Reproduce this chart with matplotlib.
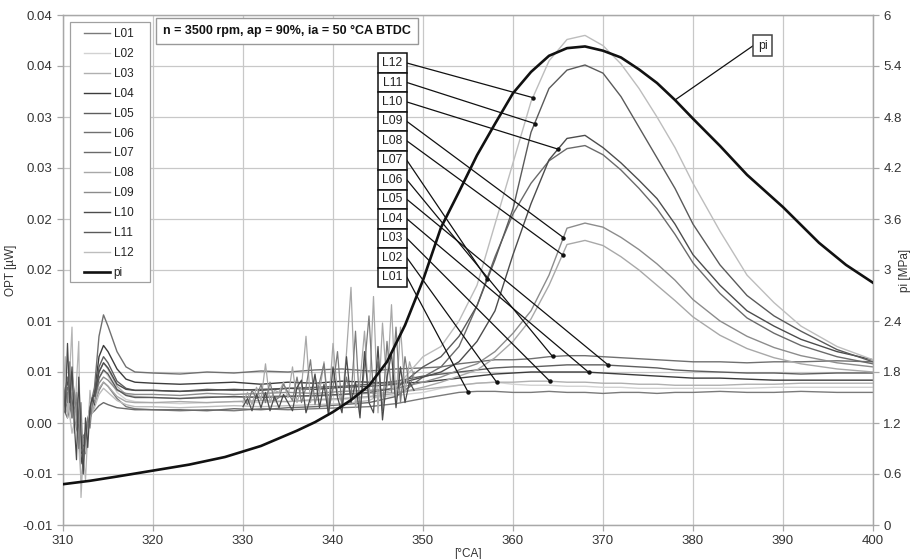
import matplotlib
matplotlib.use('Agg')
import matplotlib.pyplot as plt
from matplotlib.patches import Rectangle
import numpy as np

plt.rcParams['font.family'] = ['Liberation Sans', 'DejaVu Sans']

# ---- data (OPT values in 1e-3 uW) ----
ca = [310, 310.5, 311, 311.5, 312, 312.5, 313, 313.5, 314, 314.5, 315, 316, 317, 318,
      320, 323, 326, 329, 332, 335, 338, 341, 344, 347,
      350, 352, 354, 356, 358, 360, 362, 364, 366, 368, 370, 372, 374, 376, 378, 380,
      383, 386, 389, 392, 396, 400]

L01 = [1.0, 3.0, 0.5, 2.0, -1.5, -1.0, 0.5, 1.8, 3.2, 4.0, 3.6, 2.4, 1.6, 1.4,
       1.3, 1.2, 1.3, 1.2, 1.4, 1.3, 1.4, 1.5, 1.6, 1.9,
       2.4, 2.7, 3.0, 3.1, 3.1, 3.0, 3.0, 3.1, 3.0, 3.0, 2.9, 3.0, 3.0, 2.9, 3.0, 3.0,
       3.1, 3.0, 3.0, 3.1, 3.0, 3.0]
L02 = [1.5, 2.0, 3.5, 0.5, -2.5, -1.5, 1.0, 2.2, 4.3, 5.2, 4.6, 3.0, 2.3, 2.1,
       2.0, 1.9, 2.0, 2.1, 2.0, 2.1, 2.2, 2.3, 2.5, 2.7,
       3.0, 3.4, 3.7, 3.9, 4.0, 3.8, 3.7, 3.7, 3.6, 3.6, 3.5, 3.5, 3.4, 3.4, 3.4, 3.4,
       3.4, 3.4, 3.5, 3.5, 3.5, 3.5]
L03 = [2.5, 1.0, 4.0, 1.5, -3.5, -2.0, 1.2, 2.5, 5.0, 5.9, 5.3, 3.6, 2.8, 2.6,
       2.5, 2.4, 2.6, 2.5, 2.6, 2.7, 2.6, 2.8, 2.9, 3.0,
       3.3, 3.5, 3.7, 3.9, 4.0, 4.0, 4.1, 4.1, 4.0, 4.0, 3.9, 3.9, 3.8, 3.8, 3.7, 3.7,
       3.7, 3.8, 3.8, 3.9, 3.9, 3.9]
L04 = [3.0, 1.5, 5.0, 0.5, -4.0, -1.0, 1.5, 3.0, 6.5, 7.6, 7.0, 5.3, 4.3, 4.0,
       3.9, 3.8, 3.9, 4.0, 3.8, 4.0, 3.9, 4.1, 4.0, 3.9,
       4.0, 4.2, 4.4, 4.6, 4.8, 4.9, 5.0, 5.0, 5.0, 5.0, 4.9, 4.8, 4.7, 4.6, 4.5, 4.4,
       4.4, 4.3, 4.2, 4.2, 4.2, 4.2]
L05 = [2.0, 3.5, 1.5, 2.5, -2.0, -3.0, 1.0, 2.6, 5.5, 6.5, 5.9, 4.1, 3.4, 3.2,
       3.2, 3.1, 3.3, 3.2, 3.3, 3.4, 3.5, 3.6, 3.8, 4.1,
       4.6, 4.8, 5.0, 5.2, 5.4, 5.5, 5.5, 5.6, 5.7, 5.7, 5.7, 5.6, 5.5, 5.4, 5.2, 5.1,
       5.0, 4.9, 4.9, 4.8, 4.9, 4.9]
L06 = [2.0, 4.5, 1.0, 3.0, -3.0, -2.0, 1.5, 3.5, 8.5, 10.6, 9.5, 7.0, 5.5, 5.0,
       4.9, 4.8, 5.0, 4.9, 5.1, 5.0, 5.2, 5.3, 5.1, 5.3,
       5.4, 5.5, 5.8, 6.0, 6.2, 6.2, 6.3, 6.5, 6.6, 6.6, 6.5, 6.4, 6.3, 6.2, 6.1, 6.0,
       6.0, 5.9, 6.0, 6.0, 6.1, 6.0]
L07 = [1.5, 0.5, 2.5, -0.5, -2.0, -1.0, 0.8, 1.2, 1.7, 2.0, 1.8, 1.5, 1.4, 1.3,
       1.3, 1.3, 1.2, 1.4, 1.3, 1.5, 1.6, 1.8, 2.0, 2.6,
       4.5, 5.5, 7.5, 11.5, 16.3, 20.5, 23.5, 25.7, 26.9, 27.2, 26.3, 24.8, 23.0, 21.0, 18.5, 15.7,
       12.7, 10.3, 8.8, 7.6, 6.5, 5.8]
L08 = [2.0, 1.0, 3.0, 0.0, -3.0, -1.5, 1.0, 2.0, 3.4, 4.0, 3.6, 2.6, 2.1, 2.0,
       2.0, 2.1, 2.0, 2.1, 2.2, 2.1, 2.3, 2.4, 2.6, 2.9,
       3.5, 4.0, 4.6, 5.2, 6.4, 8.0, 10.2, 13.5, 17.5, 17.9, 17.4, 16.3, 15.0, 13.5, 12.0, 10.4,
       8.6, 7.3, 6.4, 5.8, 5.3, 5.0]
L09 = [3.0, 2.0, 4.5, 1.0, -2.5, -1.0, 1.5, 2.4, 3.9, 4.5, 4.2, 3.2, 2.9, 2.8,
       2.8, 2.7, 2.9, 2.8, 2.9, 3.0, 2.9, 3.1, 3.2, 3.4,
       4.0, 4.5, 5.2, 5.8, 7.0, 8.8, 11.0, 14.5, 19.1, 19.6, 19.2, 18.2, 17.0, 15.6, 14.0, 12.1,
       10.0, 8.5, 7.4, 6.6, 5.9, 5.5]
L10 = [2.5, 4.0, 2.0, 1.0, -3.0, -2.5, 1.2, 2.6, 5.0, 5.9, 5.4, 3.8, 3.3, 3.2,
       3.2, 3.1, 3.2, 3.3, 3.2, 3.4, 3.3, 3.5, 3.6, 3.8,
       4.5, 5.0, 6.0, 8.0, 11.0, 16.5, 21.5, 25.8, 27.9, 28.2, 27.0, 25.5, 23.8, 22.0, 19.5, 16.5,
       13.5, 11.0, 9.5, 8.2, 7.0, 6.2]
L11 = [2.0, 3.0, 1.5, 0.5, -2.5, -2.0, 1.0, 2.4, 4.4, 5.2, 4.8, 3.3, 2.7, 2.5,
       2.5, 2.4, 2.5, 2.6, 2.5, 2.6, 2.7, 2.8, 3.0, 3.4,
       5.5, 6.5, 8.5, 11.5, 16.0, 21.0, 28.5, 32.8, 34.6, 35.1, 34.3, 32.0, 29.0, 26.0, 23.0, 19.5,
       15.5, 12.5, 10.5, 9.0, 7.2, 6.0]
L12 = [1.0, 2.5, -1.0, 1.0, -5.5, -2.5, 0.5, 1.5, 2.8, 3.4, 3.0, 2.2, 1.8, 1.6,
       1.6, 1.5, 1.6, 1.7, 1.6, 1.7, 1.8, 1.9, 2.2, 3.5,
       6.5, 7.5, 10.0, 13.5, 19.5, 25.5, 31.5, 35.5, 37.6, 38.0, 37.0, 35.2, 32.8, 30.0, 27.0, 23.5,
       18.8, 14.5, 11.8, 9.5, 7.5, 6.2]

# noisy stretches (1e-3 uW)
noise_ca = [330, 330.5, 331, 331.5, 332, 332.5, 333, 333.5,
            334, 334.5, 335, 335.5, 336, 336.5, 337, 337.5, 338, 338.5, 339, 339.5, 340, 340.5,
            341, 341.5, 342, 342.5, 343, 343.5, 344, 344.5, 345, 345.5, 346, 346.5, 347, 347.5,
            348, 348.5, 349]
noise_light = [2.0, 3.0, 1.8, 3.5, 2.2, 5.8, 2.0, 3.2,
               3.0, 4.0, 2.5, 5.5, 2.0, 3.5, 8.5, 2.0, 4.5, 3.0, 6.0, 1.5, 7.8, 3.0,
               2.0, 6.9, 13.3, 1.5, 4.0, 9.0, 2.0, 12.4, 1.0, 9.8, 3.5, 11.6, 2.0, 9.4,
               3.0, 6.0, 4.5]
noise_mid = [2.6, 1.8, 3.2, 2.4, 3.8, 2.0, 4.0, 2.2,
             2.5, 3.8, 3.0, 2.2, 4.5, 2.0, 3.5, 6.2, 1.8, 4.0, 5.8, 1.0, 3.5, 7.0,
             1.5, 4.5, 2.5, 9.0, 1.0, 5.5, 10.5, 2.5, 6.0, 1.2, 8.0, 3.0, 9.4, 2.0,
             6.5, 3.5, 5.0]
noise_dark = [1.6, 2.4, 1.2, 2.8, 1.5, 3.0, 1.2, 2.6,
              1.5, 2.8, 2.0, 1.2, 3.5, 4.2, 1.0, 2.5, 4.8, 1.5, 3.8, 0.8, 5.5, 2.5,
              1.0, 6.5, 2.0, 4.0, 0.5, 7.0, 2.0, 1.0, 7.5, 0.3, 4.5, 6.8, 1.5, 5.5,
              2.0, 4.0, 3.2]
early_ca = [310, 310.25, 310.5, 310.75, 311, 311.25, 311.5, 311.75, 312, 312.25, 312.5,
            312.75, 313, 313.25, 313.5]
early_light = [2.0, 6.5, 0.5, 5.0, 9.4, -1.0, 4.0, 8.0, -7.3, -3.0, -5.6, -1.0, 3.2, 1.0, 2.5]
early_dark = [4.0, 1.0, 7.8, 2.0, 5.5, 0.0, -3.6, 4.5, -1.0, -5.0, 0.5, -2.4, 1.5, 2.5, 1.8]
early_mid = [1.0, 3.5, 2.0, 6.0, 0.5, 3.0, 1.0, -2.5, 2.0, -4.0, -1.5, 0.5, -0.5, 2.0, 2.2]

# indicated pressure [MPa]
pi_ca = [310, 313, 316, 320, 324, 328, 332, 336, 338, 340, 342, 344, 346, 348, 350, 352, 354,
         356, 358, 360, 362, 364, 366, 368, 370, 372, 374, 376, 378, 380, 383, 386, 390,
         394, 397, 400]
pi = [0.48, 0.52, 0.57, 0.64, 0.71, 0.80, 0.93, 1.11, 1.21, 1.33, 1.47, 1.64, 1.92, 2.35,
      2.88, 3.50, 3.92, 4.35, 4.72, 5.08, 5.33, 5.52, 5.61, 5.63, 5.58, 5.50, 5.36, 5.20,
      5.00, 4.78, 4.46, 4.12, 3.74, 3.32, 3.06, 2.85]

names = ['L01', 'L02', 'L03', 'L04', 'L05', 'L06', 'L07', 'L08', 'L09', 'L10', 'L11', 'L12']
series = [L01, L02, L03, L04, L05, L06, L07, L08, L09, L10, L11, L12]
colors = ['#7a7a7a', '#d2d2d2', '#b0b0b0', '#3c3c3c', '#5e5e5e', '#707070',
          '#6a6a6a', '#a8a8a8', '#8c8c8c', '#4c4c4c', '#5a5a5a', '#bdbdbd']
# crank angle where each label's leader line touches its curve
leader_ca = [355.0, 358.2, 364.1, 368.4, 370.6, 364.4, 357.1, 365.5, 365.6, 365.0, 362.4, 362.2]
pi_leader_ca = 378.0

yticks_opt = [-0.01, -0.005, 0.0, 0.005, 0.01, 0.015, 0.02, 0.025, 0.03, 0.035, 0.04]
ytick_labels = ['-0.01', '-0.01', '0.00', '0.01', '0.01', '0.02', '0.02', '0.03', '0.03', '0.04', '0.04']
pi_ticks = [0, 0.6, 1.2, 1.8, 2.4, 3, 3.6, 4.2, 4.8, 5.4, 6]
pi_tick_labels = ['0', '0.6', '1.2', '1.8', '2.4', '3', '3.6', '4.2', '4.8', '5.4', '6']
xticks = [310, 320, 330, 340, 350, 360, 370, 380, 390, 400]

# ---- plot ----
fig = plt.figure(figsize=(9.14, 5.59), dpi=100)
ax = fig.add_axes([63 / 914, 34 / 559, 810 / 914, 510 / 559])
ax2 = ax.twinx()

grid_c = '#c8c8c8'
for x in xticks:
    ax.axvline(x, color=grid_c, lw=0.9, zorder=0)
for y in yticks_opt:
    ax.axhline(y, color=grid_c, lw=0.9, zorder=0)

ca_arr = np.array(ca)
handles = []
for name, vals, col in zip(names, series, colors):
    ln, = ax.plot(ca_arr, np.array(vals) * 1e-3, color=col, lw=1.0, label=name, zorder=2)
    handles.append(ln)

ax.plot(early_ca, np.array(early_light) * 1e-3, color='#b4b4b4', lw=0.9, zorder=2)
ax.plot(early_ca, np.array(early_mid) * 1e-3, color='#808080', lw=0.9, zorder=2)
ax.plot(early_ca, np.array(early_dark) * 1e-3, color='#4a4a4a', lw=0.9, zorder=2)
ax.plot(noise_ca, np.array(noise_light) * 1e-3, color='#a8a8a8', lw=0.9, zorder=2)
ax.plot(noise_ca, np.array(noise_mid) * 1e-3, color='#7c7c7c', lw=0.9, zorder=2)
ax.plot(noise_ca, np.array(noise_dark) * 1e-3, color='#4a4a4a', lw=0.9, zorder=2)

ax.set_xlim(310, 400)
ax.set_ylim(-0.01, 0.04)
ax.set_xticks(xticks)
ax.set_yticks(yticks_opt)
ax.set_yticklabels(ytick_labels)

pi_ln, = ax2.plot(pi_ca, pi, color='#111111', lw=1.9, label='pi', zorder=3)
handles.append(pi_ln)
ax2.set_ylim(0, 6)
ax2.set_yticks(pi_ticks)
ax2.set_yticklabels(pi_tick_labels)

for a in (ax, ax2):
    for s in a.spines.values():
        s.set_color('#a8a8a8')
        s.set_linewidth(0.9)
    a.tick_params(colors='#a8a8a8', labelcolor='#333333', labelsize=9.5, length=4, width=0.9)
ax.tick_params(axis='x', pad=3)

ax.set_ylabel('OPT [µW]', fontsize=8.5, color='#333333')
ax.yaxis.set_label_coords(-0.057, 0.5)
ax2.set_ylabel('pi [MPa]', fontsize=8.5, color='#333333')
ax2.yaxis.set_label_coords(1.032, 0.5)
ax.set_xlabel('[°CA]', fontsize=8.5, color='#333333')
ax.xaxis.set_label_coords(0.5, -0.045)

# label boxes with leader lines (stacked column)
box_left, box_w = 345.0, 3.22
box_h = 0.00191
top_center = 0.03529
for i, name in enumerate(names[::-1]):
    idx = len(names) - 1 - i
    yc = top_center - i * box_h
    ax.add_patch(Rectangle((box_left, yc - box_h / 2), box_w, box_h, facecolor='white',
                           edgecolor='#111111', lw=1.1, zorder=6))
    ax.text(box_left + box_w / 2, yc, name, ha='center', va='center', fontsize=8.8,
            color='#222222', zorder=7)
    tx = leader_ca[idx]
    ty = np.interp(tx, ca_arr, np.array(series[idx]) * 1e-3)
    ax.plot([box_left + box_w, tx], [yc, ty], color='#111111', lw=0.9, zorder=5)
    ax.plot([tx], [ty], 'o', color='#111111', ms=2.2, zorder=5)

# pi label
pi_y = np.interp(pi_leader_ca, pi_ca, pi)
ax2.plot([387.75 - 1.05, pi_leader_ca], [5.64, pi_y], color='#111111', lw=0.9, zorder=5)
ax2.text(387.75, 5.64, 'pi', ha='center', va='center', fontsize=8.8, color='#222222', zorder=7,
         bbox=dict(boxstyle='square,pad=0.38', facecolor='white', edgecolor='#444444', lw=1.1))

# condition box
ax2.text(0.1235, 0.9686, 'n = 3500 rpm, ap = 90%, ia = 50 °CA BTDC', transform=ax2.transAxes,
         ha='left', va='center', fontsize=9.0, fontweight='bold', color='#111111', zorder=8,
         bbox=dict(boxstyle='square,pad=0.58', facecolor='white', edgecolor='#999999', lw=1.0))

# legend: entries without frame, frame drawn as box to match the wide Excel legend
ax2.add_patch(Rectangle((7 / 810, 243 / 510), 80 / 810, 260 / 510, transform=ax2.transAxes,
                        facecolor='white', edgecolor='#a0a0a0', lw=0.9, zorder=8))
leg = ax2.legend(handles=handles, loc='upper left', bbox_to_anchor=(21 / 810, 497 / 510),
                 fontsize=8.5, handlelength=2.2, labelspacing=0.67, frameon=False,
                 borderpad=0, handletextpad=0.3, borderaxespad=0)
for t in leg.get_texts():
    t.set_color('#222222')
leg.set_zorder(9)

fig.savefig('out.png', dpi=100)
